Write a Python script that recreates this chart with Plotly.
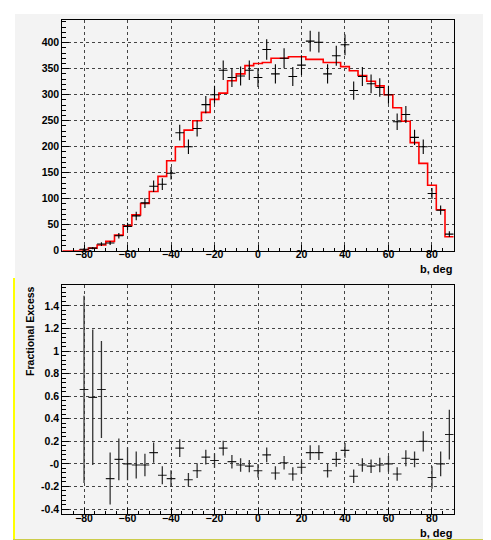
import numpy as np
import plotly.graph_objects as go

# ---------------- data ----------------
bin_centers = list(range(-88, 89, 4))  # b, deg (4-degree bins)
bin_halfwidth = 2

data_counts = [None, None, 3, 5, 13, 15, 29, 47, 67, 92, 124, 128, 149, 227, 200,
               235, 281, 300, 347, 333, 336, 347, 333, 387, 340, 370, 335, 357,
               403, 401, 340, 375, 396, 308, 335, 321, 314, 300, 248, 262, 218,
               200, 110, 78, 32]

model_counts = [0, 0, 1.5, 5, 11, 18, 30, 48, 69, 91, 114, 143, 173, 200, 232,
                250, 266, 291, 303, 327, 340, 356, 360, 362, 370, 370, 373, 373,
                368, 368, 362, 362, 354, 346, 337, 326, 317, 300, 275, 249, 208,
                168, 126, 79, 27]

excess_centers = list(range(-80, 89, 4))
excess_values = [0.66, 0.59, 0.66, -0.13, 0.04, 0.0, -0.01, -0.01, 0.10, -0.10,
                 -0.13, 0.14, -0.14, -0.06, 0.06, 0.03, 0.14, 0.02, -0.01, -0.02,
                 -0.06, 0.08, -0.08, 0.01, -0.09, -0.03, 0.10, 0.10, -0.06, 0.04,
                 0.12, -0.11, -0.01, -0.02, -0.01, 0.0, -0.09, 0.05, 0.04, 0.20,
                 -0.12, 0.0, 0.26]
excess_errors = [0.83, 0.60, 0.43, 0.23, 0.185, 0.145, 0.12, 0.10, 0.09, 0.08,
                 0.073, 0.078, 0.06, 0.065, 0.065, 0.063, 0.065, 0.06, 0.06, 0.055,
                 0.06, 0.065, 0.06, 0.06, 0.06, 0.06, 0.065, 0.065, 0.06, 0.065,
                 0.065, 0.06, 0.06, 0.06, 0.065, 0.07, 0.06, 0.07, 0.07, 0.09,
                 0.10, 0.11, 0.22]

x_tick_vals = [-80, -60, -40, -20, 0, 20, 40, 60, 80]
top_y_ticks = [0, 50, 100, 150, 200, 250, 300, 350, 400]
bot_y_ticks = [-0.4, -0.2, 0.0, 0.2, 0.4, 0.6, 0.8, 1.0, 1.2, 1.4]
bot_y_labels = ["-0.4", "-0.2", "-0", "0.2", "0.4", "0.6", "0.8", "1", "1.2", "1.4"]

# ---------------- geometry helpers ----------------
W, H = 491, 540
def px(x):
    return x / W
def py(y):
    return 1 - y / H

FONT = "Liberation Sans, Arial, sans-serif"
tickfont = dict(family=FONT, size=10.5, color="black", weight="bold")
BG = "#f3f3f3"

fig = go.Figure()

# model histogram (step line)
centers = np.array(bin_centers, dtype=float)
model = np.array(model_counts, dtype=float)
edges_x = np.append(centers - bin_halfwidth, centers[-1] + bin_halfwidth)
edges_y = np.append(model, model[-1])
fig.add_trace(go.Scatter(x=edges_x, y=edges_y, mode="lines", line_shape="hv",
                         line=dict(color="#ff0000", width=1.6),
                         xaxis="x", yaxis="y", showlegend=False, hoverinfo="skip"))

# data crosses
mask = [v is not None for v in data_counts]
dx = [c for c, m in zip(bin_centers, mask) if m]
dy = [v for v in data_counts if v is not None]
derr = list(np.sqrt(np.array(dy, dtype=float)))
fig.add_trace(go.Scatter(x=dx, y=dy, mode="markers",
                         marker=dict(size=1, color="black"),
                         error_x=dict(type="constant", value=bin_halfwidth, width=0,
                                      thickness=1.1, color="black"),
                         error_y=dict(type="data", array=derr, width=0,
                                      thickness=1.1, color="black"),
                         xaxis="x", yaxis="y", showlegend=False))

# fractional excess
fig.add_trace(go.Scatter(x=excess_centers, y=excess_values, mode="markers",
                         marker=dict(size=1, color="black"),
                         error_x=dict(type="constant", value=bin_halfwidth, width=0,
                                      thickness=1.1, color="#222"),
                         error_y=dict(type="data", array=excess_errors, width=0,
                                      thickness=1.3, color="#333"),
                         xaxis="x2", yaxis="y2", showlegend=False))

xdom = [px(54.3), px(445.7)]
common_x = dict(range=[-90, 90], tickvals=x_tick_vals, ticks="inside", ticklen=6,
                tickwidth=1, tickcolor="black", tickfont=tickfont,
                ticklabelstandoff=-6,
                minor=dict(dtick=5, ticklen=3, ticks="inside", tickcolor="black", showgrid=False),
                showgrid=True, gridcolor="#444", griddash="dot", gridwidth=1,
                showline=True, linecolor="black", linewidth=1, mirror=True,
                zeroline=False, domain=xdom, fixedrange=True)
common_y = dict(ticks="inside", ticklen=7, tickwidth=1, tickcolor="black",
                tickfont=tickfont, showgrid=True, gridcolor="#444", griddash="dot",
                gridwidth=1, showline=True, linecolor="black", linewidth=1,
                mirror=True, zeroline=False, fixedrange=True)

fig.update_layout(
    width=W, height=H,
    margin=dict(l=0, r=0, t=0, b=0),
    paper_bgcolor="white",
    plot_bgcolor=BG,
    xaxis=dict(common_x, anchor="y"),
    yaxis=dict(common_y, anchor="x", domain=[py(245.5), py(11.7)], range=[0, 444.5],
               tickvals=top_y_ticks,
               minor=dict(dtick=10, ticklen=4, ticks="inside", tickcolor="black", showgrid=False)),
    xaxis2=dict(common_x, anchor="y2"),
    yaxis2=dict(common_y, anchor="x2", domain=[py(511.7), py(280.5)], range=[-0.444, 1.582],
                tickvals=bot_y_ticks, ticktext=bot_y_labels,
                minor=dict(tick0=0, dtick=0.04, ticklen=4, ticks="inside", tickcolor="black", showgrid=False)),
    shapes=[
        dict(type="rect", xref="paper", yref="paper", x0=px(7), x1=1, y0=py(537), y1=py(6),
             fillcolor=BG, line=dict(width=0), layer="below"),
        dict(type="line", xref="paper", yref="paper", x0=px(6), x1=px(6), y0=py(538), y1=py(273),
             line=dict(color="#ffff00", width=2)),
        dict(type="line", xref="paper", yref="paper", x0=px(5), x1=1, y0=py(538), y1=py(538),
             line=dict(color="#cccc4a", width=2)),
    ],
    annotations=[
        dict(text="b, deg", xref="paper", yref="paper", x=px(446), y=py(264),
             xanchor="right", yanchor="middle", showarrow=False,
             font=dict(family=FONT, size=11, color="black", weight="bold")),
        dict(text="b, deg", xref="paper", yref="paper", x=px(446), y=py(530.5),
             xanchor="right", yanchor="middle", showarrow=False,
             font=dict(family=FONT, size=11, color="black", weight="bold")),
        dict(text="Fractional Excess", xref="paper", yref="paper", x=px(22), y=py(280.5),
             xanchor="center", yanchor="top", textangle=-90, showarrow=False,
             font=dict(family=FONT, size=10.5, color="black", weight="bold")),
    ],
)

fig.write_html("out.html")
